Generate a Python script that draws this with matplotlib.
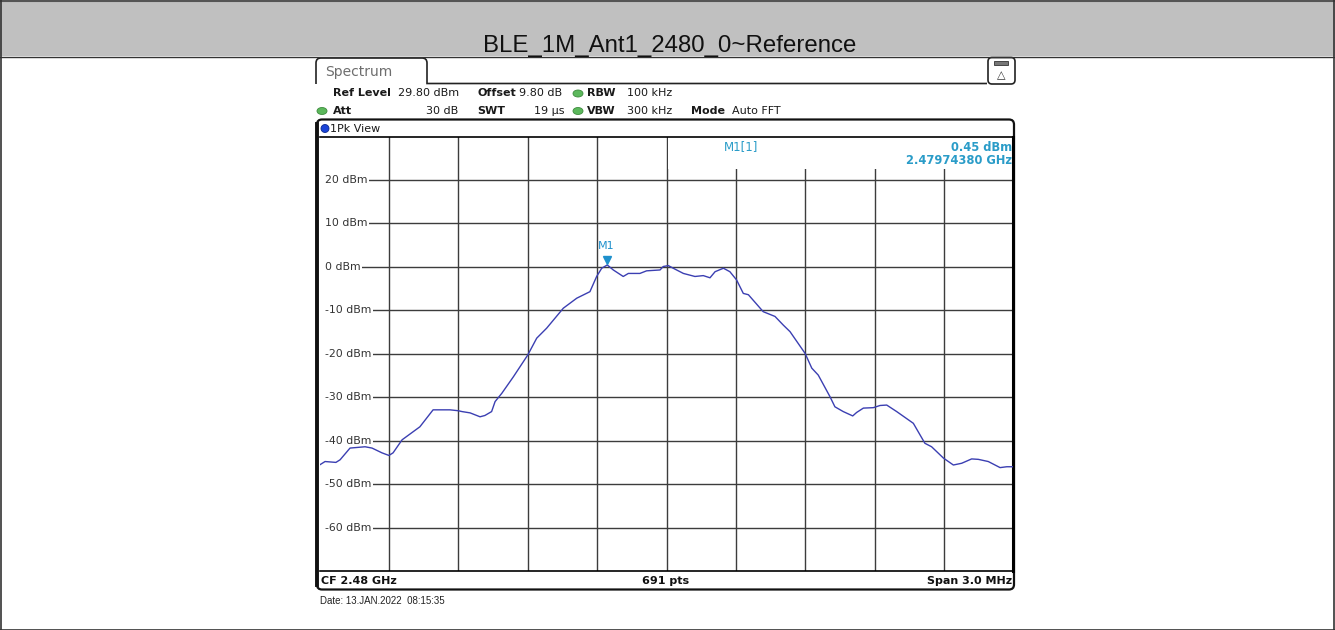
import matplotlib.pyplot as plt
import matplotlib.transforms as mtransforms
from matplotlib.patches import FancyBboxPatch, Ellipse, Circle, Rectangle, PathPatch
from matplotlib.path import Path

# trace (frequency in MHz, level in dBm)
trace_freq_mhz = [
    2478.500, 2478.524, 2478.571, 2478.589, 2478.632, 2478.697, 2478.727, 2478.770,
    2478.800, 2478.818, 2478.857, 2478.934, 2478.991, 2479.064, 2479.099, 2479.116,
    2479.151, 2479.194, 2479.215, 2479.244, 2479.259, 2479.288, 2479.338, 2479.400,
    2479.439, 2479.482, 2479.554, 2479.612, 2479.669, 2479.698, 2479.720, 2479.744,
    2479.770, 2479.813, 2479.835, 2479.885, 2479.914, 2479.972, 2479.986, 2480.008,
    2480.029, 2480.073, 2480.123, 2480.159, 2480.188, 2480.210, 2480.246, 2480.274,
    2480.303, 2480.332, 2480.354, 2480.418, 2480.469, 2480.505, 2480.534, 2480.599,
    2480.628, 2480.656, 2480.707, 2480.728, 2480.764, 2480.805, 2480.822, 2480.851,
    2480.894, 2480.923, 2480.952, 2480.995, 2481.067, 2481.117, 2481.146, 2481.197,
    2481.240, 2481.276, 2481.319, 2481.348, 2481.391, 2481.442, 2481.471, 2481.500,
]
trace_level_dbm = [
    -45.6, -44.8, -45.0, -44.4, -41.7, -41.4, -41.7, -42.8,
    -43.4, -42.8, -39.8, -36.8, -32.9, -32.9, -33.1, -33.3,
    -33.6, -34.5, -34.2, -33.3, -31.0, -29.1, -25.3, -20.3,
    -16.4, -14.1, -9.5, -7.2, -5.7, -2.2, -0.3, 0.45,
    -0.7, -2.2, -1.5, -1.5, -0.9, -0.7, 0.1, 0.3,
    -0.3, -1.5, -2.2, -2.0, -2.5, -1.1, -0.3, -1.1,
    -3.0, -6.1, -6.4, -10.3, -11.4, -13.4, -14.9, -19.9,
    -23.3, -24.9, -29.9, -32.2, -33.3, -34.3, -33.5, -32.5,
    -32.4, -31.9, -31.8, -33.3, -36.0, -40.6, -41.4, -44.0,
    -45.6, -45.2, -44.2, -44.3, -44.8, -46.2, -46.0, -46.0,
]

marker_freq_ghz = 2.4797438
marker_level_dbm = 0.45
level_ticks = [20, 10, 0, -10, -20, -30, -40, -50, -60]
center_mhz = 2480.0
span_mhz = 3.0
n_points = 691
n_div = 10

title = "BLE_1M_Ant1_2480_0~Reference"
date_text = "Date: 13.JAN.2022  08:15:35"

W, H = 1335, 630
fig = plt.figure(figsize=(W / 100, H / 100), dpi=100)
fig.patch.set_facecolor("white")

# overlay axes in pixel coordinates for the instrument decorations
ax0 = fig.add_axes([0, 0, 1, 1])
ax0.set_xlim(0, W)
ax0.set_ylim(H, 0)
ax0.axis("off")

# gray header band and outer border
ax0.add_patch(Rectangle((0, 0), W, 56, facecolor="#c0c0c0", edgecolor="none"))
ax0.plot([0, W], [1, 1], color="#555555", lw=1.5)
ax0.plot([0, W], [56.5, 56.5], color="#333333", lw=1)
ax0.plot([0.5, 0.5], [0, H], color="#333333", lw=1.2)
ax0.plot([W - 1.5, W - 1.5], [0, H], color="#333333", lw=1.2)
ax0.plot([0, W], [H - 0.5, H - 0.5], color="#333333", lw=1.2)
ax0.text(W / 2 + 2, 52, title, ha="center", va="baseline", fontsize=17.3,
         family="Liberation Sans", color="#111111")

# "Spectrum" tab
tab = Path([(316, 84), (316, 63), (316, 58), (321, 58), (422, 58), (427, 58),
            (427, 63), (427, 83.5), (987, 83.5)],
           [Path.MOVETO, Path.LINETO, Path.CURVE3, Path.CURVE3, Path.LINETO,
            Path.CURVE3, Path.CURVE3, Path.LINETO, Path.LINETO])
ax0.add_patch(PathPatch(tab, facecolor="none", edgecolor="#222222", lw=1.2))
ax0.text(325, 72, "Spectrum", fontsize=10, color="#6e6e6e", va="center", family="DejaVu Sans")

# icon box top right
ax0.add_patch(FancyBboxPatch((988, 57.5), 27, 26.5, boxstyle="round,pad=0,rounding_size=4",
                             facecolor="white", edgecolor="#222222", lw=1.2))
ax0.add_patch(Rectangle((994, 61), 14, 4, facecolor="#777777", edgecolor="#333333", lw=0.6))
ax0.text(1001, 75, "\u25b3", fontsize=8, ha="center", va="center", color="#333333",
         family="DejaVu Sans")

# setting rows
hdr = dict(fontsize=8, va="center", family="DejaVu Sans", color="#1a1a1a")
row1, row2 = 93.5, 111
ax0.text(333, row1, "Ref Level", fontweight="bold", **hdr)
ax0.text(398, row1, "29.80 dBm", **hdr)
ax0.text(477, row1, "Offset", fontweight="bold", **hdr)
ax0.text(519, row1, "9.80 dB", **hdr)
ax0.text(587, row1, "RBW", fontweight="bold", **hdr)
ax0.text(627, row1, "100 kHz", **hdr)
ax0.text(333, row2, "Att", fontweight="bold", **hdr)
ax0.text(458, row2, "30 dB", ha="right", **hdr)
ax0.text(477, row2, "SWT", fontweight="bold", **hdr)
ax0.text(565, row2, "19 \u00b5s", ha="right", **hdr)
ax0.text(587, row2, "VBW", fontweight="bold", **hdr)
ax0.text(627, row2, "300 kHz", **hdr)
ax0.text(691, row2, "Mode", fontweight="bold", **hdr)
ax0.text(732, row2, "Auto FFT", **hdr)
for cx, cy in [(578, row1), (578, row2), (322, row2)]:
    ax0.add_patch(Ellipse((cx, cy), 10, 7, facecolor="#5cb85c", edgecolor="#3d8b3d", lw=0.6))

# window frame
ax0.add_patch(FancyBboxPatch((317, 119.5), 697, 470, boxstyle="round,pad=0,rounding_size=5",
                             facecolor="white", edgecolor="#111111", lw=1.6))
ax0.plot([317, 317], [124, 585], color="#111111", lw=2.8)
ax0.add_patch(Circle((325, 128.5), 4, facecolor="#1b44d8", edgecolor="#0a2a90", lw=0.6))
ax0.text(329.5, 128.5, "1Pk View", **hdr)

bot = dict(fontsize=8, va="center", family="DejaVu Sans", fontweight="bold", color="#111111")
ax0.text(321, 581.5, f"CF {center_mhz / 1000:.2f} GHz", **bot)
ax0.text(666, 581.5, f"{n_points} pts", ha="center", **bot)
ax0.text(1012, 581.5, f"Span {span_mhz:.1f} MHz", ha="right", **bot)
ax0.text(320, 601, date_text, fontsize=7, va="center", family="Liberation Sans", color="#222222")

# spectrum plot area
x0, x1, ytop, ybot = 319.5, 1013.5, 136.6, 571.0
ax = fig.add_axes([x0 / W, (H - ybot) / H, (x1 - x0) / W, (ybot - ytop) / H])
ax.set_facecolor("white")
ax.set_xlim(center_mhz - span_mhz / 2, center_mhz + span_mhz / 2)
ax.set_ylim(-70, 30)
xgrid = [center_mhz - span_mhz / 2 + span_mhz / n_div * k for k in range(1, n_div)]
ax.set_xticks(xgrid)
ax.set_yticks(level_ticks)
ax.tick_params(length=0, labelbottom=False, labelleft=False)
ax.grid(True, color="#3c3c3c", lw=1.0)
for side in ["top", "bottom"]:
    ax.spines[side].set_linewidth(1.2)
ax.spines["left"].set_visible(False)
ax.spines["right"].set_linewidth(2.2)

# marker info box hides the upper grid, thin strip hides grid stubs at the left edge
ax.add_patch(Rectangle((center_mhz + 0.005, 22.6), span_mhz / 2, 8, facecolor="white",
                       edgecolor="none", zorder=2))
ax.add_patch(Rectangle((0, 0), 0.009, 1, transform=ax.transAxes, facecolor="white",
                       edgecolor="none", zorder=2))

ax.plot(trace_freq_mhz, trace_level_dbm, color="#3b3fb2", lw=1.0, zorder=3)

mk_color = "#1e90cc"
mk_x = marker_freq_ghz * 1000
up = mtransforms.offset_copy(ax.transData, fig=fig, x=0, y=3.5, units="points")
ax.plot([mk_x], [marker_level_dbm], marker="v", color=mk_color, markersize=6, transform=up,
        zorder=4)
ax.annotate("M1", (mk_x, marker_level_dbm), xytext=(-1, 10), textcoords="offset points",
            ha="center", va="bottom", fontsize=8, color=mk_color, family="DejaVu Sans")

info = dict(va="center", family="DejaVu Sans", color="#2a9cc8", zorder=5)
ax.text(0.583, 0.976, "M1[1]", transform=ax.transAxes, ha="left", fontsize=8.5, **info)
ax.text(0.9975, 0.976, f"{marker_level_dbm:.2f} dBm", transform=ax.transAxes, ha="right",
        fontsize=8.3, fontweight="bold", **info)
ax.text(0.9975, 0.944, f"{marker_freq_ghz:.8f} GHz", transform=ax.transAxes, ha="right",
        fontsize=8.3, fontweight="bold", **info)

# level labels sit on white patches so the grid starts right after them (trace stays on top)
lab = mtransforms.blended_transform_factory(ax.transAxes, ax.transData)
for v in level_ticks:
    ax.text(0.0075, v, f"{v} dBm", transform=lab, ha="left", va="center", fontsize=7.8,
            color="#333333", family="DejaVu Sans", zorder=2.5,
            bbox=dict(facecolor="white", edgecolor="none", pad=1.5))

fig.savefig("out.png", dpi=100)
